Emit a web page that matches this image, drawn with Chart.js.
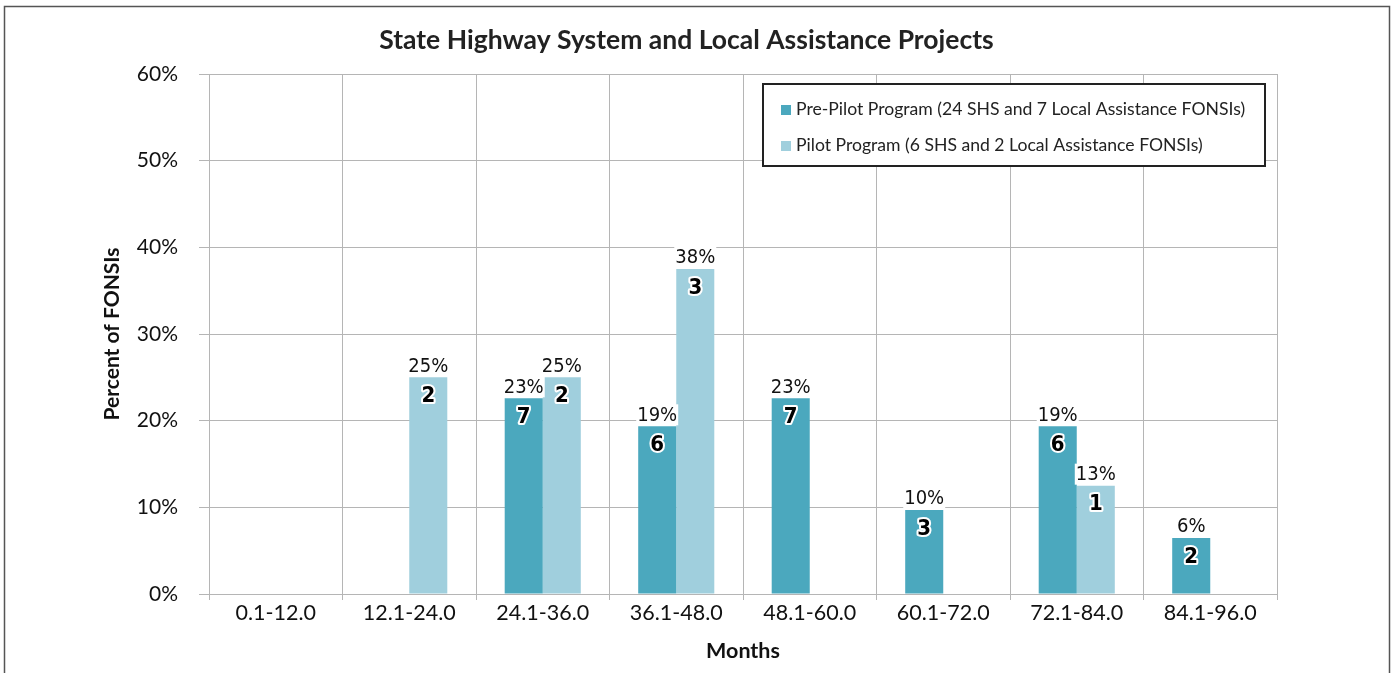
<!DOCTYPE html>
<html>
<head>
<meta charset="utf-8">
<script src="https://cdn.jsdelivr.net/npm/chart.js@4.4.0/dist/chart.umd.min.js"></script>
<style>
    html, body { margin: 0; padding: 0; background: #fff; }
    #wrap { width: 1394px; height: 673px; }
</style>
</head>
<body>
<div id="wrap"><canvas id="fonsiChart" width="1394" height="673"></canvas></div>
<script>
// Data
const months = ['0.1-12.0', '12.1-24.0', '24.1-36.0', '36.1-48.0', '48.1-60.0', '60.1-72.0', '72.1-84.0', '84.1-96.0'];
const prePilotPct = [0, 0, 22.58, 19.35, 22.58, 9.68, 19.35, 6.45];
const pilotPct = [0, 25, 25, 37.5, 0, 0, 12.5, 0];
const prePilotCount = [0, 0, 7, 6, 7, 3, 6, 2];
const pilotCount = [0, 2, 2, 3, 0, 0, 1, 0];
const yTicks = [0, 10, 20, 30, 40, 50, 60];

const FONT = "Lato, 'Open Sans', sans-serif";
const NARROW = "'Liberation Sans Narrow', 'DejaVu Sans Condensed', sans-serif";
const GRID = '#b5b5b5';

/**
 * Frame around the whole figure
 */
const framePlugin = {
    id: 'frame',
    beforeDraw(chart) {
        const ctx = chart.ctx;
        ctx.save();
        ctx.fillStyle = '#fff';
        ctx.fillRect(0, 0, chart.width, chart.height);
        ctx.strokeStyle = '#555';
        ctx.lineWidth = 1.5;
        ctx.strokeRect(4.5, 6.5, 1385, 700);
        ctx.restore();
    }
};

/**
 * Percent above the bars, count inside the top of the bars
 */
const barLabelPlugin = {
    id: 'barLabels',
    afterDatasetsDraw(chart) {
        const ctx = chart.ctx;
        const counts = [prePilotCount, pilotCount];
        ctx.save();
        ctx.textAlign = 'center';
        chart.data.datasets.forEach((ds, i) => {
            chart.getDatasetMeta(i).data.forEach((bar, j) => {
                const v = ds.data[j];
                if (!v) return;
                // percent label with white backing
                const pct = Math.round(v) + '%';
                ctx.font = '20px ' + NARROW;
                ctx.textBaseline = 'bottom';
                const w = ctx.measureText(pct).width;
                ctx.fillStyle = '#fff';
                ctx.fillRect(bar.x - w / 2 - 1, bar.y - 22, w + 2, 21);
                ctx.fillStyle = '#111';
                ctx.fillText(pct, bar.x, bar.y - 1);
                // count label, outlined
                ctx.font = 'bold 22px ' + NARROW;
                ctx.textBaseline = 'middle';
                ctx.lineJoin = 'round';
                ctx.lineWidth = 4;
                ctx.strokeStyle = '#fff';
                ctx.strokeText(String(counts[i][j]), bar.x, bar.y + 19);
                ctx.fillStyle = '#000';
                ctx.fillText(String(counts[i][j]), bar.x, bar.y + 19);
            });
        });
        ctx.restore();
    }
};

/**
 * Boxed legend in the upper right
 */
const boxLegendPlugin = {
    id: 'boxLegend',
    afterDraw(chart) {
        const ctx = chart.ctx;
        const box = { x: 763, y: 84, w: 502, h: 82 };
        ctx.save();
        ctx.fillStyle = '#fff';
        ctx.fillRect(box.x, box.y, box.w, box.h);
        ctx.strokeStyle = '#222';
        ctx.lineWidth = 2;
        ctx.strokeRect(box.x, box.y, box.w, box.h);
        ctx.font = '17.6px ' + FONT;
        ctx.textBaseline = 'middle';
        ctx.textAlign = 'left';
        chart.data.datasets.forEach((ds, i) => {
            const cy = box.y + 25 + i * 36;
            ctx.fillStyle = ds.backgroundColor;
            ctx.fillRect(box.x + 18, cy - 4, 10, 10);
            ctx.fillStyle = '#222';
            ctx.fillText(ds.label, box.x + 33, cy);
        });
        ctx.restore();
    }
};

const chart = new Chart(document.getElementById('fonsiChart'), {
    type: 'bar',
    data: {
        labels: months,
        datasets: [
            {
                label: 'Pre-Pilot Program (24 SHS and 7 Local Assistance FONSIs)',
                data: prePilotPct,
                backgroundColor: '#4ba8be'
            },
            {
                label: 'Pilot Program (6 SHS and 2 Local Assistance FONSIs)',
                data: pilotPct,
                backgroundColor: '#a0cfdd'
            }
        ]
    },
    options: {
        responsive: false,
        animation: false,
        layout: {
            padding: { left: 96, right: 117, top: 0, bottom: 5 }
        },
        datasets: {
            bar: { categoryPercentage: 0.57, barPercentage: 1.0 }
        },
        plugins: {
            legend: { display: false },
            tooltip: { enabled: false },
            title: {
                display: true,
                text: 'State Highway System and Local Assistance Projects',
                color: '#222',
                font: { family: FONT, size: 26.5, weight: 'bold', lineHeight: 1.2 },
                padding: { top: 24.1, bottom: 18.1 }
            }
        },
        scales: {
            x: {
                grid: {
                    color: GRID,
                    offset: true,
                    tickLength: 6
                },
                border: { color: GRID },
                ticks: {
                    color: '#111',
                    padding: 0,
                    font: { family: FONT, size: 21.5 }
                },
                title: {
                    display: true,
                    text: 'Months',
                    color: '#111',
                    font: { family: FONT, size: 21.5, weight: 'bold', lineHeight: 1.2 }
                },
                afterFit: (s) => { s.height = 74; }
            },
            y: {
                min: 0,
                max: 60,
                grid: {
                    color: GRID,
                    tickLength: 10
                },
                border: { color: GRID },
                afterBuildTicks: (s) => { s.ticks = yTicks.map(v => ({ value: v })); },
                ticks: {
                    color: '#111',
                    padding: 21,
                    font: { family: FONT, size: 21 },
                    callback: (v) => v + '%'
                },
                title: {
                    display: true,
                    text: 'Percent of FONSIs',
                    color: '#111',
                    font: { family: FONT, size: 21, weight: 'bold', lineHeight: 1.2 }
                },
                afterFit: (s) => { s.width = 113; }
            }
        }
    },
    plugins: [framePlugin, barLabelPlugin, boxLegendPlugin]
});
</script>
</body>
</html>
